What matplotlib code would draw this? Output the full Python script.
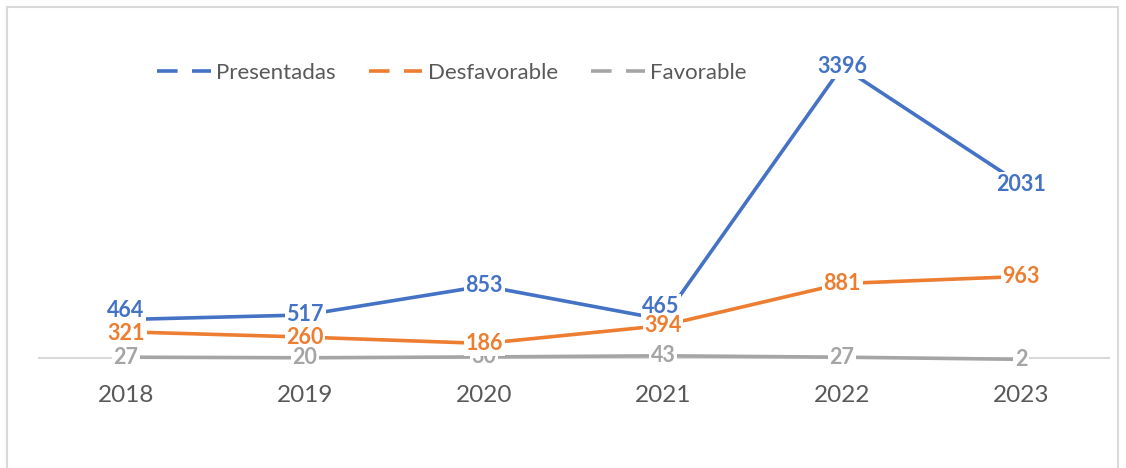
import matplotlib.pyplot as plt
from matplotlib.patches import Rectangle

# data
years = ['2018', '2019', '2020', '2021', '2022', '2023']
presentadas = [464, 517, 853, 465, 3396, 2031]
desfavorable = [321, 260, 186, 394, 881, 963]
favorable = [27, 20, 30, 43, 27, 2]

series = [
    ('Presentadas', presentadas, '#4472C4', 6),
    ('Desfavorable', desfavorable, '#ED7D31', 7),
    ('Favorable', favorable, '#A5A5A5', 8),
]

# small nudges (points) for labels Excel moved off the point
nudge = {
    ('Presentadas', 0): (-0.5, 6.5),
    ('Presentadas', 3): (-1.5, 9.5),
    ('Desfavorable', 0): (0, -1.5),
}
# the one gray label that sits under the orange one
tucked = {('Favorable', 2)}

plt.rcParams['font.family'] = ['Lato', 'DejaVu Sans']

fig = plt.figure(figsize=(11.26, 4.68), dpi=100)

# light frame round the chart, like the Excel chart area
fig.patches.append(Rectangle((7 / 1126, -0.1), 1111 / 1126, 1.1 - 7 / 468,
                             transform=fig.transFigure, fill=False,
                             edgecolor='#d9d9d9', linewidth=1.5))

ax = fig.add_axes([38 / 1126, 108.5 / 468, 1072 / 1126, 319.5 / 468])
x = list(range(len(years)))

for name, vals, col, z in series:
    ax.plot(x, vals, color=col, linewidth=2.6, solid_capstyle='butt',
            clip_on=False, zorder=3, label=name)
    for i, v in enumerate(vals):
        dx, dy = nudge.get((name, i), (0, 0))
        zz = 5 if (name, i) in tucked else z
        ax.annotate(str(v), (i, v), xytext=(dx, dy), textcoords='offset points',
                    color=col, fontsize=15.5, fontweight='bold',
                    ha='center', va='center', zorder=zz,
                    bbox=dict(boxstyle='square,pad=0.08', fc='white', ec='none'))

ax.set_xlim(-0.492, 5.497)
ax.set_ylim(0, 3706)
ax.axhline(15, color='#d9d9d9', linewidth=1.5, zorder=1)

for s in ax.spines.values():
    s.set_visible(False)
ax.set_yticks([])
ax.set_xticks(x)
ax.set_xticklabels(years, fontsize=17.5, color='#595959')
ax.tick_params(axis='x', length=0, pad=18)

handles = [plt.Line2D([0], [0], color=c, linewidth=2.6, linestyle=(0, (5.7, 4)))
           for _, _, c, _ in series]
leg = fig.legend(handles, [s[0] for s in series], loc='center',
                 bbox_to_anchor=(452 / 1126, 1 - 73 / 468), ncol=3, frameon=False,
                 fontsize=16, handlelength=2.4, handletextpad=0.25,
                 columnspacing=1.5, labelcolor='#595959')

fig.savefig('out.png', dpi=100)
